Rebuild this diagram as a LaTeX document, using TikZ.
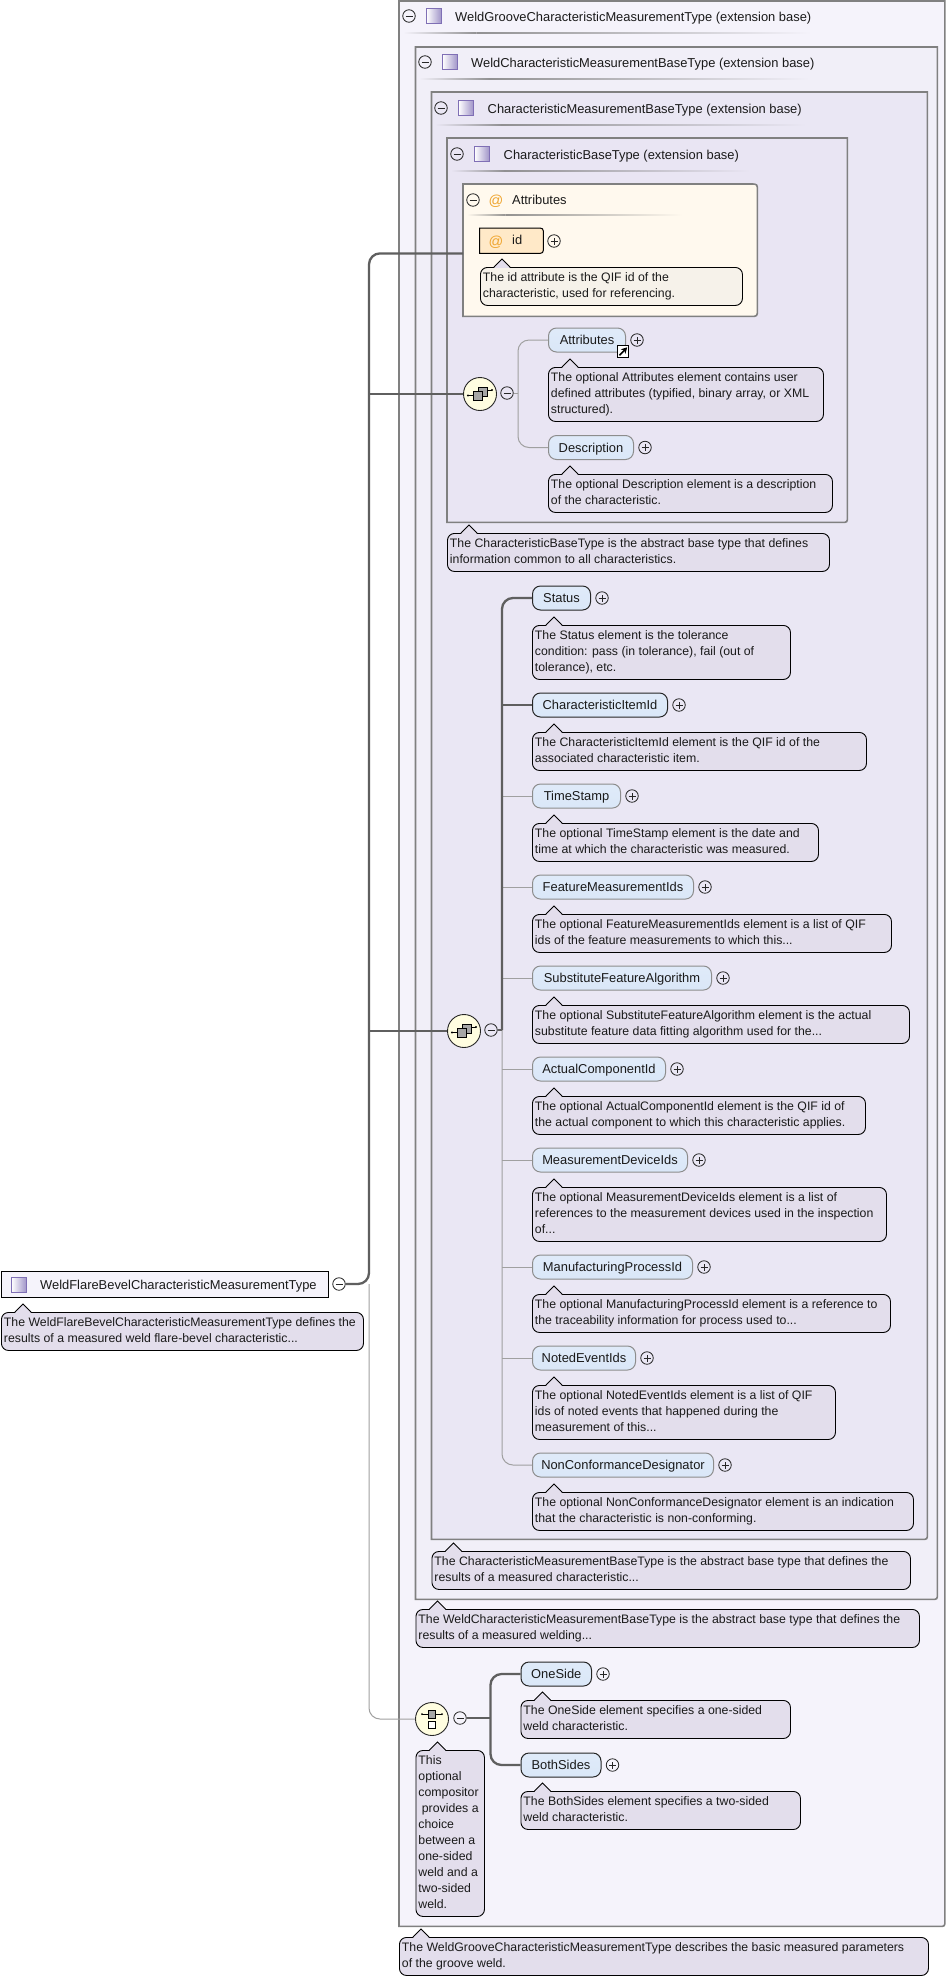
\documentclass[tikz,border=0pt]{standalone}
\usepackage{fontspec}
\setmainfont{Liberation Sans}
\usetikzlibrary{arrows.meta,calc}
\definecolor{fa}{HTML}{F5F3FB}
\definecolor{fb}{HTML}{F1EFF8}
\definecolor{fc}{HTML}{EAE7F4}
\definecolor{fd}{HTML}{E9E5F3}
\definecolor{cmtfill}{HTML}{E3DEEC}
\definecolor{elfill}{HTML}{DAE7F8}
\definecolor{txt}{HTML}{1A1A1A}
\definecolor{boxgray}{HTML}{808080}
\definecolor{thickc}{HTML}{5F5F5F}
\definecolor{thinc}{HTML}{A0A0A0}
\definecolor{atfill}{HTML}{FFF9EE}
\definecolor{idfill}{HTML}{FFE9C8}
\definecolor{atcmt}{HTML}{F6F2EA}
\definecolor{atorange}{HTML}{EFA52F}
\definecolor{iconp}{HTML}{7F6FB5}
\newcommand{\tfont}{\fontsize{12.3}{16}\selectfont}
\newcommand{\hfont}{\fontsize{12.9}{16}\selectfont}
\tikzset{
  cmtbox/.style={draw=black,line width=.9pt,fill=cmtfill,rounded corners=7pt,inner sep=0pt,text=txt,font=\tfont},
  reqelem/.style={draw=black!85,line width=1pt,rounded corners=8pt,top color=elfill!85!white,bottom color=elfill,minimum height=24pt,inner sep=0pt,text=txt,font=\hfont,text height=11pt,text depth=2pt},
  optelem/.style={reqelem,draw=boxgray!90},
  btnbase/.style={circle,draw=black!85,line width=.8pt,minimum size=12.5pt,inner sep=0pt},
  minusbtn/.style={btnbase,path picture={\draw[line width=.8pt] ([xshift=-3.5pt]path picture bounding box.center) -- ([xshift=3.5pt]path picture bounding box.center);}},
  plusbtn/.style={btnbase,path picture={\draw[line width=.8pt] ([xshift=-3.5pt]path picture bounding box.center) -- ([xshift=3.5pt]path picture bounding box.center) ([yshift=-3.5pt]path picture bounding box.center) -- ([yshift=3.5pt]path picture bounding box.center);}},
  compo/.style={circle,draw=black!85,line width=.9pt,fill=yellow!12!white,minimum size=33pt,inner sep=0pt},
  titletext/.style={anchor=west,inner sep=0pt,text=txt,font=\hfont,text height=11pt,text depth=2pt},
  boxline/.style={draw=boxgray,line width=1.6pt},
  typeicon/.style={draw=iconp,line width=.8pt,shading=axis,shading angle=315,left color=white,right color=iconp!75!white,minimum size=15pt,inner sep=0pt},
  atsign/.style={inner sep=0pt,text=atorange,font=\fontsize{14.5}{14.5}\selectfont},
  thickline/.style={draw=thickc,line width=2.3pt},
  thinline/.style={draw=thinc,line width=1pt},
}
% comment: [options]{name}{x1}{y1}{x2}{lines}{text}
\newcommand{\cmtn}[7][]{%
  \pgfmathsetmacro\cw{#5-#3-5}%
  \node[cmtbox,anchor=north west,minimum width={#5-#3},minimum height={16*#6+6},#1] (#2) at (#3,#4)
    {\makebox[\cw pt][l]{\begin{tabular}{@{}l@{}}#7\end{tabular}}};%
  \fill[#1,fill=cmtfill,draw=none] ($(#2.north west)+(14,.9)$) -- ($(#2.north west)+(22,-8)$) -- ($(#2.north west)+(30,.9)$) -- cycle;%
  \draw[black,line width=.9pt] ($(#2.north west)+(14,0)$) -- ($(#2.north west)+(22,-8)$) -- ($(#2.north west)+(30,0)$);%
}
% element: [style]{name}{label}{x1}{x2}{cy}
\newcommand{\elem}[6][reqelem]{%
  \node[#1,anchor=west,minimum width={#5-#4}] (#2) at (#4,#6) {#3};%
  \node[plusbtn] (#2p) at ($(#2.east)+(11,0)$) {};%
}
% box with rounded lower right corner
\newcommand{\tbox}[6]{%
  \node[minimum width={#4-#2},minimum height={#5-#3},inner sep=0pt,anchor=north west] (#1) at (#2,#3) {};%
  \draw[boxline,fill=#6] (#1.north west) -- (#1.north east) -- ($(#1.south east)+(0,-6)$) .. controls (#1.south east) .. ($(#1.south east)+(-6,0)$) -- (#1.south west) -- cycle;%
}
\newcommand{\sepl}[4]{%
  \shade[left color=#4,right color=boxgray!85!#4] (#1,#3-.9) rectangle ({#1+0.18*(#2-#1)},#3+.9);%
  \shade[left color=boxgray!85!#4,right color=#4] ({#1+0.18*(#2-#1)},#3-.9) rectangle (#2,#3+.9);%
}
\newcommand{\titlerow}[8]{% name minusx iconx textx y text sepend fill
  \node[minusbtn] (#1m) at (#2,#5) {};%
  \node[typeicon] (#1i) at (#3,#5) {};%
  \node[titletext] (#1t) at (#4,#5+.5) {#6};%
  \sepl{\the\numexpr#2-6\relax}{#7}{\the\numexpr#5+17\relax}{#8}%
}
\begin{document}
\begin{tikzpicture}[x=1pt,y=-1pt]
\useasboundingbox[fill=white] (0,0) rectangle (947,1979);
% nested boxes
\tbox{bA}{399}{1}{944.5}{1926}{fa}
\titlerow{bA}{409}{434}{455}{16}{WeldGrooveCharacteristicMeasurementType (extension base)}{811}{fa}
\tbox{bB}{415.5}{47}{937}{1599}{fb}
\titlerow{bB}{425}{450}{471}{62}{WeldCharacteristicMeasurementBaseType (extension base)}{809}{fb}
\tbox{bC}{431.5}{92}{927}{1539}{fc}
\titlerow{bC}{441}{466}{487.5}{108}{CharacteristicMeasurementBaseType (extension base)}{806}{fc}
\tbox{bD}{447}{138}{847}{522}{fd}
\titlerow{bD}{457}{482}{503.5}{154}{CharacteristicBaseType (extension base)}{750}{fd}
% Attributes group
\node[minimum width=294pt,minimum height=132pt,inner sep=0pt,anchor=north west] (attrs) at (463,184) {};
\draw[boxline,top color=atfill,bottom color=atfill] (attrs.north west) -- ($(attrs.north east)+(-7,0)$) .. controls (attrs.north east) .. ($(attrs.north east)+(0,7)$) -- ($(attrs.south east)+(0,-7)$) .. controls (attrs.south east) .. ($(attrs.south east)+(-7,0)$) -- (attrs.south west) -- cycle;
\node[minusbtn] (attrsm) at (473,200) {};
\node[atsign] (attrsat) at (496,201) {@};
\node[titletext] (attrst) at (512,199.5) {Attributes};
\sepl{467}{682}{215}{atfill}
\node[minimum width=63.5pt,minimum height=25pt,inner sep=0pt,anchor=north west] (idb) at (479.5,228) {};
\draw[draw=black,line width=1pt,fill=idfill] (idb.north west) -- ($(idb.north east)+(-7,0)$) .. controls (idb.north east) .. ($(idb.north east)+(0,7)$) -- ($(idb.south east)+(0,-7)$) .. controls (idb.south east) .. ($(idb.south east)+(-7,0)$) -- (idb.south west) -- cycle;
\node[atsign] (idat) at (496,242) {@};
\node[titletext] (idt) at (512,240) {id};
\node[plusbtn] (idp) at (554,241) {};
\cmtn[fill=atcmt]{cId}{480}{267}{742}{2}{The id attribute is the QIF id of the\\characteristic, used for referencing.}
% first sequence
\node[compo] (c1) at (480,394) {};
\draw[line width=.9pt,fill=gray!70] ($(c1)+(-2,-7)$) rectangle ($(c1)+(7,2)$);
\draw[line width=.9pt,fill=gray!70] ($(c1)+(-7,-3)$) rectangle ($(c1)+(2,6)$);
\draw[line width=.9pt] ($(c1)+(-12,1.5)$) -- ($(c1)+(-7,1.5)$) ($(c1)+(7,-4)$) -- ($(c1)+(12,-4)$);
\fill ($(c1)+(-12,1.5)$) circle (1.2) ($(c1)+(12,-4)$) circle (1.2);
\node[minusbtn] (m1) at (507,393) {};
\coordinate (b1) at (518,393);
\elem[optelem]{eAttr}{Attributes}{548}{625}{340}
\elem[optelem]{eDesc}{Description}{548}{633}{447.5}
\node[draw=black,line width=1pt,fill=white,minimum size=11.5pt,inner sep=0pt] (shortcut) at (623,351.5) {};
\draw[-{Stealth[length=6pt,width=6.5pt]},line width=1.6pt] ($(shortcut)+(-3.5,3.8)$) -- ($(shortcut)+(4.2,-4.2)$);
\draw[thinline,rounded corners=11pt] (eAttr.west) -| (b1) |- (eDesc.west);
\draw[thinline] (m1.east) -- (b1);
\cmtn{cAttr}{548}{367}{823}{3}{The optional Attributes element contains user\\defined attributes (typified, binary array, or XML\\structured).}
\cmtn{cDesc}{548}{474}{832}{2}{The optional Description element is a description\\of the characteristic.}
\cmtn{cBaseD}{447}{533}{829}{2}{The CharacteristicBaseType is the abstract base type that defines\\information common to all characteristics.}
% second sequence
\node[compo] (c2) at (464,1031) {};
\draw[line width=.9pt,fill=gray!70] ($(c2)+(-2,-7)$) rectangle ($(c2)+(7,2)$);
\draw[line width=.9pt,fill=gray!70] ($(c2)+(-7,-3)$) rectangle ($(c2)+(2,6)$);
\draw[line width=.9pt] ($(c2)+(-12,1.5)$) -- ($(c2)+(-7,1.5)$) ($(c2)+(7,-4)$) -- ($(c2)+(12,-4)$);
\fill ($(c2)+(-12,1.5)$) circle (1.2) ($(c2)+(12,-4)$) circle (1.2);
\node[minusbtn] (m2) at (491,1030) {};
\coordinate (b2) at (502,1030);
\elem{eStatus}{Status}{532}{590}{598}
\elem{eItem}{CharacteristicItemId}{532}{667}{705}
\elem[optelem]{eTime}{TimeStamp}{532}{620}{796}
\elem[optelem]{eFeat}{FeatureMeasurementIds}{532}{693}{887}
\elem[optelem]{eSubst}{SubstituteFeatureAlgorithm}{532}{711}{978}
\elem[optelem]{eActual}{ActualComponentId}{532}{665}{1069}
\elem[optelem]{eDev}{MeasurementDeviceIds}{532}{687}{1160}
\elem[optelem]{eProc}{ManufacturingProcessId}{532}{692}{1267}
\elem[optelem]{eNoted}{NotedEventIds}{532}{635}{1358}
\elem[optelem]{eNon}{NonConformanceDesignator}{532}{713}{1465}
\draw[thinline,rounded corners=11pt] (b2) |- (eNon.west);
\draw[thinline] (b2 |- eTime.west) -- (eTime.west);
\draw[thinline] (b2 |- eFeat.west) -- (eFeat.west);
\draw[thinline] (b2 |- eSubst.west) -- (eSubst.west);
\draw[thinline] (b2 |- eActual.west) -- (eActual.west);
\draw[thinline] (b2 |- eDev.west) -- (eDev.west);
\draw[thinline] (b2 |- eProc.west) -- (eProc.west);
\draw[thinline] (b2 |- eNoted.west) -- (eNoted.west);
\draw[thickline,rounded corners=11pt] (eStatus.west) -| (b2);
\draw[thickline] (b2 |- eItem.west) -- (eItem.west);
\draw[thickline] (m2.east) -- (b2);
\cmtn{cStatus}{532}{625}{790}{3}{The Status element is the tolerance\\condition: pass (in tolerance), fail (out of\\tolerance), etc.}
\cmtn{cItem}{532}{732}{866}{2}{The CharacteristicItemId element is the QIF id of the\\associated characteristic item.}
\cmtn{cTime}{532}{823}{818}{2}{The optional TimeStamp element is the date and\\time at which the characteristic was measured.}
\cmtn{cFeat}{532}{914}{891}{2}{The optional FeatureMeasurementIds element is a list of QIF\\ids of the feature measurements to which this...}
\cmtn{cSubst}{532}{1005}{909}{2}{The optional SubstituteFeatureAlgorithm element is the actual\\substitute feature data fitting algorithm used for the...}
\cmtn{cActual}{532}{1096}{865}{2}{The optional ActualComponentId element is the QIF id of\\the actual component to which this characteristic applies.}
\cmtn{cDev}{532}{1187}{886}{3}{The optional MeasurementDeviceIds element is a list of\\references to the measurement devices used in the inspection\\of...}
\cmtn{cProc}{532}{1294}{890}{2}{The optional ManufacturingProcessId element is a reference to\\the traceability information for process used to...}
\cmtn{cNoted}{532}{1385}{835}{3}{The optional NotedEventIds element is a list of QIF\\ids of noted events that happened during the\\measurement of this...}
\cmtn{cNon}{532}{1492}{913}{2}{The optional NonConformanceDesignator element is an indication\\that the characteristic is non-conforming.}
\cmtn{cBaseC}{431.5}{1551}{910}{2}{The CharacteristicMeasurementBaseType is the abstract base type that defines the\\results of a measured characteristic...}
\cmtn{cBaseB}{415.5}{1609}{919}{2}{The WeldCharacteristicMeasurementBaseType is the abstract base type that defines the\\results of a measured welding...}
% choice
\node[compo] (c3) at (432,1719) {};
\draw[line width=.9pt] ($(c3)+(-10,-5)$) -- ($(c3)+(10,-5)$);
\fill ($(c3)+(-10,-5)$) circle (1) ($(c3)+(10,-5)$) circle (1);
\draw[line width=.9pt,fill=gray!70] ($(c3)+(-3.6,-8.5)$) rectangle ($(c3)+(3.6,-1)$);
\draw[line width=.9pt,fill=white] ($(c3)+(-3.6,2)$) rectangle ($(c3)+(3.6,9)$);
\node[minusbtn] (m3) at (460,1718) {};
\coordinate (b3) at (490.5,1718);
\elem{eOne}{OneSide}{520.5}{591}{1674}
\elem{eBoth}{BothSides}{520.5}{600.5}{1765}
\draw[thickline,rounded corners=11pt] (eOne.west) -| (b3) |- (eBoth.west);
\draw[thickline] (m3.east) -- (b3);
\cmtn{cOne}{520.5}{1700}{790}{2}{The OneSide element specifies a one-sided\\weld characteristic.}
\cmtn{cBoth}{520.5}{1791}{800}{2}{The BothSides element specifies a two-sided\\weld characteristic.}
\cmtn{cChoice}{415.5}{1750}{484}{10}{This\\optional\\compositor\\\ provides a\\choice\\between a\\one-sided\\weld and a\\two-sided\\weld.}
\cmtn{cBaseA}{399}{1937}{928}{2}{The WeldGrooveCharacteristicMeasurementType describes the basic measured parameters\\of the groove weld.}
% root
\node[draw=black,line width=1pt,fill=fa,minimum width=327.5pt,minimum height=26pt,inner sep=0pt,anchor=north west] (root) at (.5,1271) {};
\node[typeicon] (rooti) at (19,1284.5) {};
\node[titletext] (roott) at (40,1284.5) {WeldFlareBevelCharacteristicMeasurementType};
\node[minusbtn] (rootm) at (339,1284) {};
\cmtn{cRoot}{1}{1312}{363}{2}{The WeldFlareBevelCharacteristicMeasurementType defines the\\results of a measured weld flare-bevel characteristic...}
% trunk
\coordinate (tr) at (369,1284);
\draw[thinline,rounded corners=11pt] (tr) |- (c3.west);
\draw[thickline,rounded corners=11pt] (rootm.east) -- (tr) |- (attrs.west |- idb.south);
\draw[thickline] (tr |- c1.west) -- (c1.west);
\draw[thickline] (tr |- c2.west) -- (c2.west);
\end{tikzpicture}
\end{document}
